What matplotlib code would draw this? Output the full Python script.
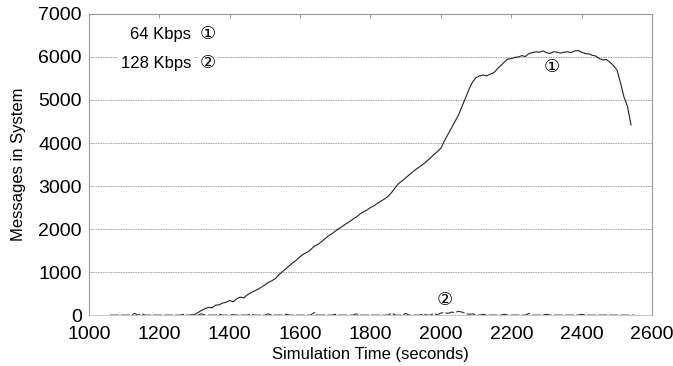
import numpy as np
import matplotlib.pyplot as plt

plt.rcParams['font.family'] = ['Liberation Sans', 'DejaVu Sans']

# 64 Kbps run, sampled every 10 s from 1290 s
t64 = np.arange(1290, 2550, 10)
m64 = [0, 10, 60, 110, 150, 180, 170, 230, 240, 280,
       300, 340, 310, 380, 420, 400, 470, 520, 560, 600,
       650, 700, 760, 800, 850, 940, 1010, 1080, 1150, 1220,
       1280, 1360, 1420, 1460, 1520, 1600, 1640, 1700, 1770, 1840,
       1890, 1950, 2010, 2060, 2120, 2170, 2230, 2280, 2350, 2400,
       2440, 2500, 2540, 2600, 2650, 2700, 2760, 2850, 2960, 3060,
       3120, 3190, 3260, 3330, 3390, 3450, 3510, 3580, 3650, 3730,
       3800, 3880, 4050, 4200, 4350, 4500, 4650, 4850, 5050, 5250,
       5420, 5520, 5560, 5580, 5560, 5600, 5630, 5720, 5800, 5880,
       5950, 5960, 5990, 6000, 6030, 6010, 6080, 6100, 6120, 6110,
       6140, 6100, 6080, 6120, 6110, 6090, 6110, 6120, 6100, 6140,
       6150, 6110, 6080, 6070, 6040, 6020, 5960, 5930, 5940, 5880,
       5800, 5700, 5400, 5070, 4850, 4420]

# 128 Kbps run, sampled every 10 s from 1060 s
t128 = np.arange(1060, 2560, 10)
m128 = [0, 0, 0, 0, 0, 0, 0, 40, 0, 30,
        0, 0, 0, 0, 0, 0, 0, 0, 0, 0,
        0, 20, 0, 0, 0, 0, 30, 0, 0, 0,
        0, 20, 0, 0, 0, 10, 0, 0, 0, 0,
        20, 0, 0, 0, 0, 30, 0, 0, 0, 0,
        20, 0, 0, 0, 0, 0, 0, 0, 60, 0,
        0, 0, 0, 0, 20, 0, 0, 0, 0, 0,
        30, 0, 0, 0, 0, 0, 0, 0, 0, 0,
        50, 0, 0, 0, 40, 0, 0, 0, 0, 30,
        0, 0, 40, 10, 50, 60, 40, 70, 60, 90,
        70, 40, 20, 30, 10, 0, 20, 0, 0, 0,
        0, 0, 20, 0, 0, 0, 0, 0, 0, 40,
        0, 0, 0, 0, 20, 0, 0, 0, 0, 0,
        0, 0, 0, 0, 20, 0, 0, 0, 0, 0,
        0, 0, 0, 0, 0, 0, 0, 0, 0, 0]

fig = plt.figure(figsize=(6.73, 3.66), dpi=100)
ax = fig.add_axes([0.132, 0.139, 0.837, 0.823])

ax.plot(t64, m64, color='#222222', lw=0.8)
ax.plot(t128, m128, color='#333333', lw=0.8, ls=(0, (8, 2)))

ax.set_xlim(1000, 2600)
ax.set_ylim(0, 7000)
ax.set_xticks(range(1000, 2601, 200))
ax.set_yticks(range(0, 7001, 1000))
for y in range(1000, 7000, 1000):
    ax.axhline(y, color='#777777', lw=0.6, ls=(0, (1, 1)), zorder=0)

ax.tick_params(axis='y', labelsize=14, length=0, pad=5)
ax.tick_params(axis='x', top=True, bottom=False, direction='in', length=3,
               width=0.6, color='#888888', labelsize=14, pad=8)
for side in ['top', 'right', 'left']:
    ax.spines[side].set_color('#999999')
    ax.spines[side].set_linewidth(0.8)
ax.spines['bottom'].set_color('#bbbbbb')
ax.spines['bottom'].set_linewidth(0.6)

ax.set_xlabel('Simulation Time (seconds)', fontsize=12, labelpad=3)
ax.set_ylabel('Messages in System', fontsize=12, labelpad=9)

# legend-like labels with circled numbers
ax.text(0.182, 0.93, '64 Kbps', transform=ax.transAxes,
        ha='right', va='center', fontsize=12)
ax.text(0.182, 0.837, '128 Kbps', transform=ax.transAxes,
        ha='right', va='center', fontsize=12,
        bbox=dict(facecolor='white', edgecolor='none', pad=2))
ax.text(0.211, 0.93, '\u2460', transform=ax.transAxes,
        ha='center', va='center', fontsize=13)
ax.text(0.211, 0.837, '\u2461', transform=ax.transAxes,
        ha='center', va='center', fontsize=13,
        bbox=dict(facecolor='white', edgecolor='none', pad=1))
ax.text(2316, 5750, '\u2460', ha='center', va='center', fontsize=13)
ax.text(2012, 340, '\u2461', ha='center', va='center', fontsize=13)

fig.savefig('out.png', dpi=100)
